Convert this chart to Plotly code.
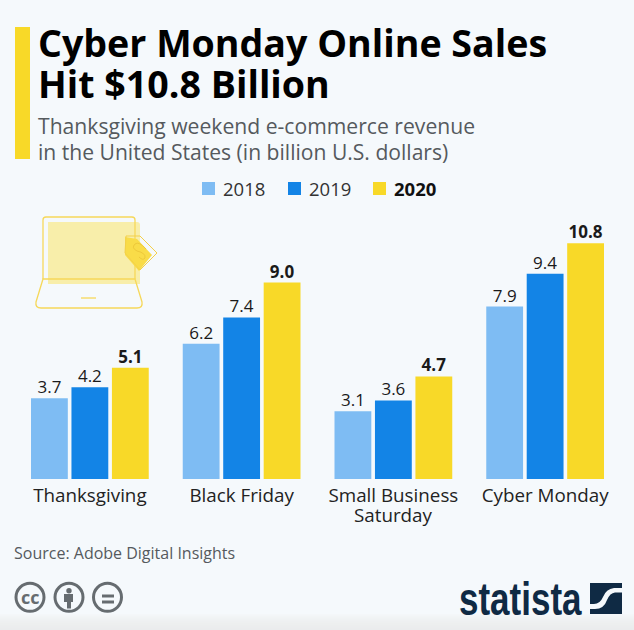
import plotly.graph_objects as go

W, H = 634, 630
categories = ["Thanksgiving", "Black Friday", "Small Business Saturday", "Cyber Monday"]
tick_labels = ["Thanksgiving", "Black Friday", "Small Business", "Cyber Monday"]
years = ["2018", "2019", "2020"]
v2018 = [3.7, 6.2, 3.1, 7.9]
v2019 = [4.2, 7.4, 3.6, 9.4]
v2020 = [5.1, 9.0, 4.7, 10.8]
C18, C19, C20 = "#7ebcf3", "#1384e6", "#f8d928"
BG = "#f5f9fc"
FONT = "Open Sans"
NAVY = "#0f2a44"


def X(p):
    return p / W


def Y(p):
    return 1 - p / H


def P(*pts, close=False):
    s = "M" + " L".join(f"{X(a):.5f},{Y(b):.5f}" for a, b in pts)
    return s + (" Z" if close else "")


def Q(*segments):
    parts = []
    for s in segments:
        if s[0] == "Z":
            parts.append("Z")
        elif s[0] == "Q":
            parts.append(f"Q{X(s[1]):.5f},{Y(s[2]):.5f} {X(s[3]):.5f},{Y(s[4]):.5f}")
        else:
            parts.append(f"{s[0]}{X(s[1]):.5f},{Y(s[2]):.5f}")
    return " ".join(parts)


fig = go.Figure()
for name, vals, col, tmpl in [
    (years[0], v2018, C18, "%{y:.1f}"),
    (years[1], v2019, C19, "%{y:.1f}"),
    (years[2], v2020, C20, "<b>%{y:.1f}</b>"),
]:
    fig.add_bar(
        x=categories, y=vals, name=name, marker=dict(color=col, line_width=0),
        texttemplate=tmpl, textposition="outside", cliponaxis=False,
        textfont=dict(size=17, color="#1a1a1a", family=FONT), hoverinfo="skip",
    )

shapes = []


def rect(x0, y0, x1, y1, fill):
    shapes.append(dict(type="rect", xref="paper", yref="paper", x0=X(x0), x1=X(x1), y0=Y(y0), y1=Y(y1),
                       fillcolor=fill, line_width=0, layer="below"))


def pth(d, fill=None, line=None, lw=1.3):
    shapes.append(dict(type="path", xref="paper", yref="paper", path=d,
                       fillcolor=fill or "rgba(0,0,0,0)",
                       line=dict(color=line or "rgba(0,0,0,0)", width=lw if line else 0), layer="below"))


def circ(cx, cy, r, fill=None, line=None, lw=2.2):
    shapes.append(dict(type="circle", xref="paper", yref="paper", x0=X(cx - r), x1=X(cx + r),
                       y0=Y(cy - r), y1=Y(cy + r), fillcolor=fill or "rgba(0,0,0,0)",
                       line=dict(color=line or "rgba(0,0,0,0)", width=lw if line else 0), layer="below"))


# footer shading: soft fade towards the bottom edge
FADE = ["#f4f7f9", "#f3f6f8", "#f2f5f6", "#f1f4f5", "#f0f3f4", "#eff2f3", "#eff1f2", "#eef0f1",
        "#eef0f0", "#edefef", "#edefef", "#eceeee", "#ecedee", "#ebedee", "#ebeced", "#eaeced"]
for i, c in enumerate(FADE):
    rect(0, 614 + i, 634, 615 + i, c)
# title accent
rect(15, 27, 30, 159, C20)

# laptop illustration
LINE = "#f6d85a"
pth(Q(("M", 48, 222), ("L", 137, 222), ("Q", 140, 222, 140, 225), ("L", 140, 284), ("L", 48, 284), ("Z",)), fill="#f8eeaa")
pth(Q(("M", 43, 279), ("L", 43, 220), ("Q", 43, 217, 46, 217), ("L", 132, 217), ("Q", 135, 217, 135, 220), ("L", 135, 279)), line=LINE)
pth(Q(("M", 43, 279), ("L", 135, 279), ("L", 142, 302), ("Q", 143, 308, 137, 308), ("L", 41, 308), ("Q", 35, 308, 36, 302), ("Z",)), line=LINE)
pth(P((81, 298), (96, 298)), line=LINE)
pth(P((125, 237), (137, 239), (152, 255), (139, 271), (125, 255), close=True), fill="#f9dc48")
pth(P((126, 236), (140, 236), (157, 253), (140, 270), (125, 253), close=True), line="#f3d04a", lw=1)
pth(Q(("M", 146, 249), ("Q", 139, 241, 135, 244), ("Q", 131, 248, 137, 251), ("Q", 146, 253, 145, 258), ("Q", 143, 261, 139, 257)), line="#eec93a", lw=1)

# CC icons
GREY = "#666c70"
for cx in (30, 69, 107.5):
    circ(cx, 597.3, 14, line=GREY, lw=3)
circ(69, 590.7, 2.7, fill=GREY)
pth(P((64, 594), (73, 594), (73, 602), (71, 602), (71, 608.5), (67, 608.5), (67, 602), (64, 602), close=True), fill=GREY)
rect(102, 594.5, 114, 597.5, GREY)
rect(102, 600.5, 114, 603.5, GREY)

# statista logo mark
rect(590, 583, 622, 614, NAVY)
pth(Q(("M", 590, 604), ("L", 594, 604), ("Q", 600, 604, 603, 597), ("Q", 606, 589, 614, 588), ("L", 622, 588), ("L", 622, 592.5),
      ("L", 615, 592.5), ("Q", 610, 593, 607, 600), ("Q", 604, 609, 595, 609), ("L", 590, 609), ("Z",)), fill=BG)

# legend swatches
for x0, col in zip((202, 288, 373), (C18, C19, C20)):
    rect(x0, 182, x0 + 13, 195, col)

annots = []


def txt(x, y, text, size, color="#000", family=FONT, anchor="left"):
    annots.append(dict(xref="paper", yref="paper", x=X(x), y=Y(y), text=text, showarrow=False,
                       xanchor=anchor, yanchor="middle", align=anchor,
                       font=dict(size=size, color=color, family=family), borderpad=0, borderwidth=0))


txt(38, 43, "<b>Cyber Monday Online Sales</b>", 37.6)
txt(38, 84, "<b>Hit $10.8 Billion</b>", 37.6)
txt(38, 126, "Thanksgiving weekend e-commerce revenue", 21.15, "#555a5e")
txt(38, 151, "in the United States (in billion U.S. dollars)", 21.1, "#555a5e")
txt(14, 553, "Source: Adobe Digital Insights", 16, "#555a5e")
txt(30, 596.5, "<b>cc</b>", 18, GREY, anchor="center")
txt(459, 598, "<b>statista</b>", 35, NAVY, family="Liberation Sans")
# legend labels
txt(223, 188.5, years[0], 18.5, "#333")
txt(309, 188.5, years[1], 18.5, "#333")
txt(394, 188.5, f"<b>{years[2]}</b>", 18.5, "#111")
# second line of the wrapped category
annots.append(dict(xref="x", yref="paper", x=categories[2], y=Y(515), text="Saturday", showarrow=False,
                   xanchor="center", yanchor="middle", font=dict(size=18.8, color="#222", family=FONT)))

fig.update_layout(
    width=W, height=H, autosize=False, margin=dict(l=0, r=0, t=0, b=0),
    paper_bgcolor=BG, plot_bgcolor="rgba(0,0,0,0)",
    barmode="group", bargap=0.2, bargroupgap=0.09,
    font=dict(family=FONT, color="#1a1a1a"),
    shapes=shapes, annotations=annots,
    showlegend=False,
    xaxis=dict(domain=[X(14), X(621)], showline=False, showgrid=False, ticks="",
               tickmode="array", tickvals=categories, ticktext=tick_labels, tickangle=0,
               ticklabelstandoff=3, tickfont=dict(size=18.8, color="#222"),
               fixedrange=True, automargin=False),
    yaxis=dict(domain=[Y(479), Y(217)], range=[0, 12], visible=False, fixedrange=True),
)
post = """
document.documentElement.style.margin='0';
document.body.style.margin='0';
document.body.style.overflow='hidden';
document.body.style.background='%s';
document.querySelectorAll('.annotation-text').forEach(function(t){
  if(t.textContent==='statista'){
    t.style.transformBox='fill-box';
    t.style.transformOrigin='center';
    t.style.transform='scaleY(1.3)';
  }
});
document.querySelectorAll('.bars .bartext text, text.bartext').forEach(function(t){
  t.setAttribute('y', parseFloat(t.getAttribute('y')||0)+3);
});
""" % BG
fig.write_html("out.html", config={"displayModeBar": False}, post_script=post)
